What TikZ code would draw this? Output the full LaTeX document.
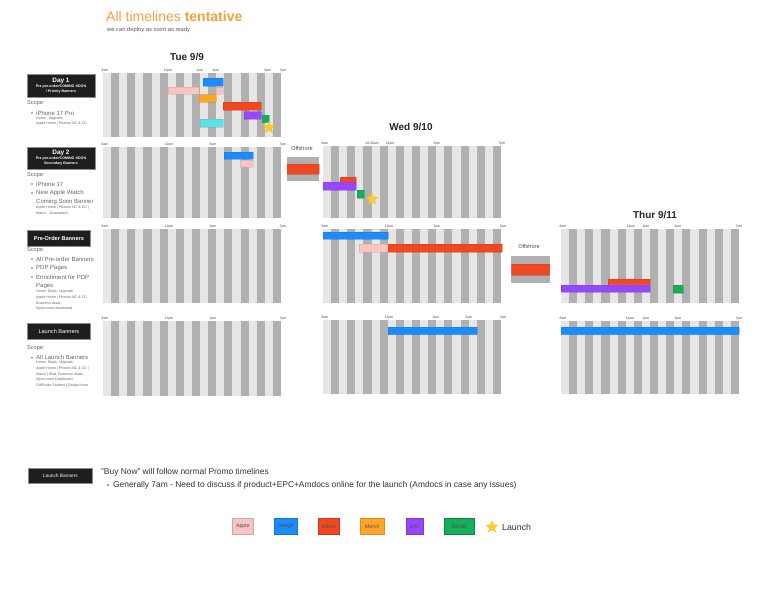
\documentclass[tikz,border=0pt]{standalone}
\usepackage{fontspec}
\setmainfont{Liberation Sans}
\usetikzlibrary{shapes.geometric}
\definecolor{gl}{HTML}{E6E6E6}
\definecolor{gd}{HTML}{B0B0B0}
\definecolor{apple}{HTML}{F8C4C4}
\definecolor{design}{HTML}{1A8CFF}
\definecolor{uidev}{HTML}{F24822}
\definecolor{merch}{HTML}{FFA629}
\definecolor{uat}{HTML}{9747FF}
\definecolor{dcab}{HTML}{14AE5C}
\definecolor{cyanbar}{HTML}{5CE1E6}
\definecolor{staryel}{HTML}{FFCD29}
\definecolor{titleor}{HTML}{F5A03C}
\definecolor{txt}{HTML}{444444}
\definecolor{boxbg}{HTML}{1E1E1E}
\newcommand{\tlgrid}[3]{%
  \fill[gl] (#1,#2) rectangle ({#1+178},#3);
  \foreach \i in {0,...,10}{\fill[gd] ({#1+8.1+16.18*\i},#2) rectangle ({#1+16.18+16.18*\i},#3);}
}
\newcommand{\tbar}[6]{%
  \node[barbox, fill=#2, draw=#2!80!black, minimum width={#5-#3}, minimum height={#6-#4}, anchor=north west] (#1) at (#3,#4) {};
}
\begin{document}
\begin{tikzpicture}[x=1pt,y=-1pt,
  tl/.style={font=\fontsize{3.4}{4}\selectfont, text=txt, inner sep=0, anchor=south},
  hdr/.style={font=\fontsize{10}{12}\selectfont\bfseries, text=black!85, inner sep=0},
  daybox/.style={fill=boxbg, draw=black!45, line width=0.8, text=white, align=center, inner sep=1, anchor=north west},
  daybig/.style={text=white, inner sep=0, font=\fontsize{6.4}{7}\selectfont\bfseries},
  daysmall/.style={text=white, inner sep=0, font=\fontsize{3.6}{4}\selectfont\bfseries},
  scopetxt/.style={font=\fontsize{5.6}{6}\selectfont, text=black!60, anchor=west, inner sep=0},
  itemtxt/.style={font=\fontsize{6}{7}\selectfont, text=black!60, anchor=west, inner sep=0},
  subtxt/.style={font=\fontsize{3.6}{4}\selectfont, text=black!60, anchor=west, inner sep=0},
  dotb/.style={circle, fill=black!60, inner sep=0, minimum size=1.6},
  barbox/.style={rectangle, inner sep=0, line width=0.4, rounded corners=0.5},
  launchstar/.style={star, star points=5, star point ratio=2.2, fill=staryel, draw=staryel!80!orange, line width=0.4, inner sep=0, minimum size=12},
  legbox/.style={rectangle, inner sep=1.5, line width=0.5, minimum height=16, anchor=north west, align=left, text=black!70, font=\fontsize{5.2}{6}\selectfont},
  offtxt/.style={font=\fontsize{5.6}{6}\selectfont, text=black!70, inner sep=0}
]
\useasboundingbox[fill=white] (0,0) rectangle (768,595);

% title
\node[anchor=west, inner sep=0, font=\fontsize{14}{16}\selectfont, text=titleor] (title) at (106,16) {All timelines \textbf{tentative}};
\node[anchor=west, inner sep=0, font=\fontsize{5.8}{6}\selectfont, text=black!65] (subtitle) at (107,30) {we can deploy as soon as ready};

% day headers
\node[hdr] (tue) at (187,57) {Tue 9/9};
\node[hdr] (wed) at (411,127) {Wed 9/10};
\node[hdr] (thu) at (655,215) {Thur 9/11};

% ---------- grids ----------
\tlgrid{103}{73}{137}
\tlgrid{103}{147}{218}
\tlgrid{103}{229}{303}
\tlgrid{103}{321}{396}
\tlgrid{323}{146}{218}
\tlgrid{323}{229}{303}
\tlgrid{323}{320}{394}
\tlgrid{561}{229}{303}
\tlgrid{561}{321}{394}

% time labels
\foreach \x/\lab in {105/8am,168/12pm,200/2pm,216/3pm,268/6pm,283/7pm}{\node[tl] at (\x,72) {\lab};}
\foreach \yy in {146,228,320}{
  \foreach \x/\lab in {105/8am,169/12pm,213/3pm,283/7pm}{\node[tl] at (\x,\yy) {\lab};}
}
\foreach \x/\lab in {325/8am,372/10:30am,390/12pm,437/3pm,502/7pm}{\node[tl] at (\x,145) {\lab};}
\foreach \x/\lab in {325/8am,389/12pm,437/3pm,503/7pm}{\node[tl] at (\x,228) {\lab};}
\foreach \x/\lab in {325/8am,389/12pm,436/3pm,469/5pm,503/7pm}{\node[tl] at (\x,319) {\lab};}
\foreach \x/\lab in {563/8am,631/12pm,646/1pm,678/3pm,739/7pm}{\node[tl] at (\x,228) {\lab};}
\foreach \x/\lab in {563/8am,630/12pm,646/1pm,678/3pm,739/7pm}{\node[tl] at (\x,320) {\lab};}

% ---------- Tue row 1 bars ----------
\tbar{t1design}{design}{203}{78}{223}{86}
\tbar{t1apple}{apple}{168}{87}{199}{94}
\tbar{t1apple2}{apple}{216}{87}{223}{94}
\tbar{t1merch}{merch}{199}{94.5}{216}{102}
\tbar{t1uidev}{uidev}{223}{102}{261}{110}
\tbar{t1uat}{uat}{244}{111.5}{261}{119}
\tbar{t1dcab}{dcab}{262}{115}{269}{122.5}
\tbar{t1cyan}{cyanbar}{200}{119}{223}{127}
\node[launchstar] (t1star) at (269,127.5) {};

% ---------- Tue row 2 bars ----------
\tbar{t2design}{design}{224}{152}{253}{159}
\tbar{t2apple}{apple}{240}{160}{253}{167}

% ---------- Offshore 1 ----------
\node[offtxt] (off1) at (302,148) {Offshore};
\fill[gd] (287,157) rectangle (319,181);
\tbar{off1bar}{uidev}{287}{164}{319}{174}

% ---------- Wed row 2 bars ----------
\tbar{w2uidev}{uidev}{340}{177}{356}{182}
\tbar{w2uat}{uat}{323}{182}{356}{190}
\tbar{w2dcab}{dcab}{357}{190}{364}{198}
\node[launchstar] (w2star) at (372,199) {};

% ---------- Wed row 3 bars ----------
\tbar{w3design}{design}{323}{232}{388}{239}
\tbar{w3apple}{apple}{359}{244}{388}{252}
\tbar{w3uidev}{uidev}{388}{244}{502}{252}

% ---------- Offshore 2 ----------
\node[offtxt] (off2) at (529,246) {Offshore};
\fill[gd] (511,256) rectangle (550,283);
\tbar{off2bar}{uidev}{511.5}{264}{549.5}{275}

% ---------- Thur row 3 bars ----------
\tbar{h3uidev}{uidev}{608}{279}{650}{284.5}
\tbar{h3uat}{uat}{561}{285}{650}{292}
\tbar{h3dcab}{dcab}{673}{285}{683}{293}

% ---------- Launch bars ----------
\tbar{w4design}{design}{388}{327}{477}{334.5}
\tbar{h4design}{design}{561}{327}{739}{334.5}

% ---------- left column ----------
\node[daybox, minimum width=68, minimum height=23] (day1) at (27,74) {};
\node[daybig] (day1a) at (61,80.5) {Day 1};
\node[daysmall] (day1b) at (61,87) {Pre pre-order/COMING SOON};
\node[daysmall] (day1c) at (61,92) {/ Priority Banners};
\node[scopetxt] (s1) at (27,103) {Scope:};
\node[dotb] (d11) at (32,113) {};
\node[itemtxt] (i11) at (36,113) {iPhone 17 Pro};
\node[subtxt] (u11) at (36,118.5) {Home , Upgrade,};
\node[subtxt] (u12) at (36,124) {Apple Home | Phones NC \& CC};

\node[daybox, minimum width=68, minimum height=22] (day2) at (27,147) {};
\node[daybig] (day2a) at (61,153) {Day 2};
\node[daysmall] (day2b) at (61,159) {Pre pre-order/COMING SOON};
\node[daysmall] (day2c) at (61,164) {Secondary Banners};
\node[scopetxt] (s2) at (27,175) {Scope:};
\node[dotb] (d21) at (32,184) {};
\node[itemtxt] (i21) at (36,184) {iPhone 17};
\node[dotb] (d22) at (32,193) {};
\node[itemtxt] (i22) at (36,193) {New Apple Watch};
\node[itemtxt] (i23) at (36,202) {Coming Soon Banner};
\node[subtxt] (u21) at (36,208) {Apple Home | Phones NC \& CC |};
\node[subtxt] (u22) at (36,213.5) {Watch , Smartwatch};

\node[daybox, minimum width=63, minimum height=16, font=\fontsize{5.6}{6}\selectfont\bfseries] (pre) at (27,230) {Pre-Order Banners};
\node[scopetxt] (s3) at (27,250) {Scope:};
\node[dotb] (d31) at (32,259) {};
\node[itemtxt] (i31) at (36,259) {All Pre-order Banners};
\node[dotb] (d32) at (32,268) {};
\node[itemtxt] (i32) at (36,268) {PDP Pages};
\node[dotb] (d33) at (32,277) {};
\node[itemtxt] (i33) at (36,277) {Enrichment for PDP};
\node[itemtxt] (i34) at (36,286) {Pages};
\node[subtxt] (u31) at (36,292) {Home, Deals, Upgrade,};
\node[subtxt] (u32) at (36,297.5) {Apple Home | Phones NC \& CC,};
\node[subtxt] (u33) at (36,303) {Business deals,};
\node[subtxt] (u34) at (36,308.5) {MyAccount dashboard};

\node[daybox, minimum width=63, minimum height=16, font=\fontsize{5.6}{6}\selectfont] (launch) at (27,323) {Launch Banners};
\node[scopetxt] (s4) at (27,348) {Scope:};
\node[dotb] (d41) at (32,357.5) {};
\node[itemtxt] (i41) at (36,357.5) {All Launch Banners};
\node[subtxt] (u41) at (36,363) {Home, Deals, Upgrade,};
\node[subtxt] (u42) at (36,368.5) {Apple Home | Phones NC \& CC |};
\node[subtxt] (u43) at (36,374.5) {Watch | iPad, Business deals,};
\node[subtxt] (u44) at (36,380) {MyAccount Dashboard,};
\node[subtxt] (u45) at (36,385.5) {GiftGuide Student | Gadget lover};

% ---------- bottom note ----------
\node[daybox, minimum width=64, minimum height=15, font=\fontsize{4.8}{5}\selectfont] (launchb) at (28,468) {Launch Banners};
\node[anchor=west, inner sep=0, font=\fontsize{8.4}{9}\selectfont, text=black!80] (buynow) at (101,472) {"Buy Now" will follow normal Promo timelines};
\node[dotb, minimum size=2] (bd) at (108,485) {};
\node[anchor=west, inner sep=0, font=\fontsize{8.4}{9}\selectfont, text=black!80] (gen) at (113,485) {Generally 7am - Need to discuss if product+EPC+Amdocs online for the launch (Amdocs in case any issues)};

% ---------- legend ----------
\node[legbox, fill=apple, draw=apple!85!black, minimum width=21] (lapple) at (232,518) {Apple};
\node[legbox, fill=design, draw=design!80!black, minimum width=23] (ldesign) at (274,518) {Design};
\node[legbox, fill=uidev, draw=uidev!80!black, minimum width=21] (luidev) at (318,518) {UIDev};
\node[legbox, fill=merch, draw=merch!85!black, minimum width=24] (lmerch) at (360,518) {Merch};
\node[legbox, fill=uat, draw=uat!80!black, minimum width=17] (luat) at (406,518) {UAT};
\node[legbox, fill=dcab, draw=dcab!75!black, minimum width=30] (ldcab) at (444,518) {DCAB};
\node[launchstar] (lstar) at (492,527) {};
\node[anchor=west, inner sep=0, font=\fontsize{8.8}{10}\selectfont, text=black!80] (llaunch) at (502,527.5) {Launch};
\end{tikzpicture}
\end{document}
